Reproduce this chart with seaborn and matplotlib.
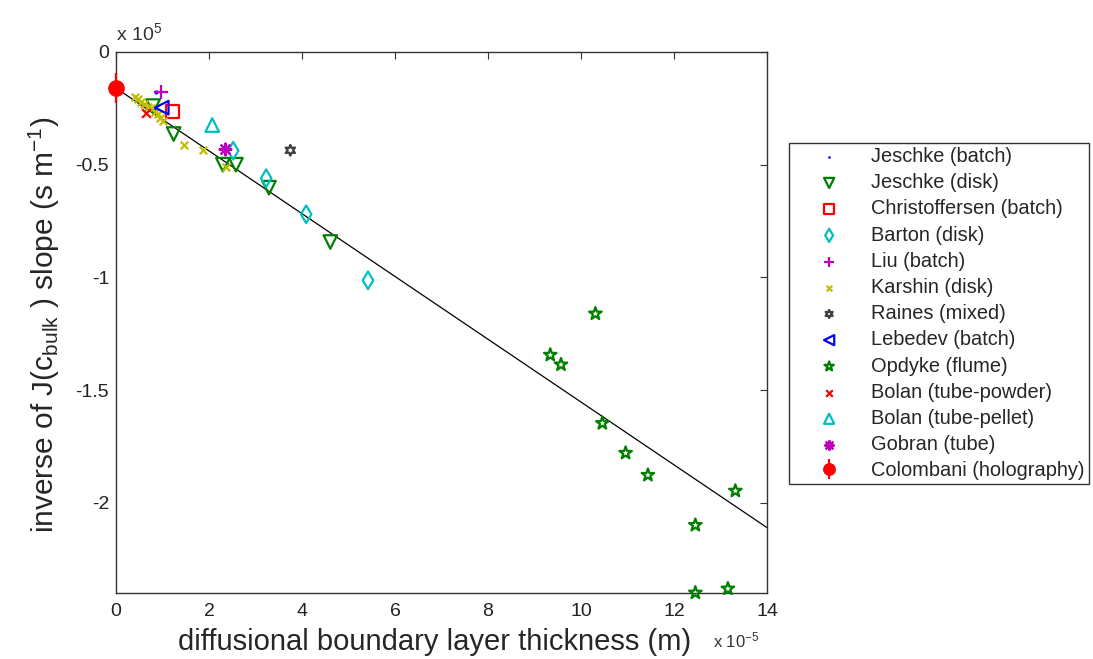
"""
Inverse of J(c_bulk) slope vs diffusional boundary layer thickness.
"""

import matplotlib
matplotlib.use("Agg")
import matplotlib.pyplot as plt
import seaborn as sns
import pandas as pd

# x in units of 1e-5 m, y in units of 1e5 s/m
jeschke_batch_x = [0.86]
jeschke_batch_y = [-0.176]

jeschke_disk_x = [0.80, 1.24, 2.30, 2.58, 3.29, 4.61]
jeschke_disk_y = [-0.240, -0.364, -0.500, -0.500, -0.602, -0.843]

christoffersen_x = [1.22]
christoffersen_y = [-0.265]

barton_x = [2.52, 3.23, 4.09, 5.42]
barton_y = [-0.438, -0.560, -0.720, -1.013]

liu_x = [0.97]
liu_y = [-0.179]

karshin_x = [0.40, 0.47, 0.54, 0.61, 0.68, 0.76, 0.83, 0.90, 0.94, 1.01,
             1.47, 1.87, 2.37]
karshin_y = [-0.199, -0.209, -0.221, -0.232, -0.243, -0.250, -0.265, -0.277,
             -0.295, -0.307, -0.413, -0.436, -0.510]

raines_x = [3.75]
raines_y = [-0.436]

lebedev_x = [0.985]
lebedev_y = [-0.247]

opdyke_x = [10.31, 9.34, 9.57, 10.46, 10.96, 11.44, 13.32, 12.46, 12.46, 13.16]
opdyke_y = [-1.161, -1.344, -1.387, -1.647, -1.779, -1.877, -1.947, -2.099,
            -2.399, -2.381]

bolan_powder_x = [0.65]
bolan_powder_y = [-0.270]

bolan_pellet_x = [2.07]
bolan_pellet_y = [-0.324]

gobran_x = [2.35]
gobran_y = [-0.432]

colombani_x = [0.0]
colombani_y = [-0.16]
colombani_err = [0.065]

fit_x = [0.0, 14.0]
fit_y = [-0.16, -2.11]

BLUE = "#0000FF"
GREEN = "#008000"
RED = "#FF0000"
CYAN = "#00BFBF"
MAGENTA = "#BF00BF"
YELLOW = "#BFBF00"
DARK = "#404040"

# label, x, y, marker, colour, size, open marker?
series = [
    ("Jeschke (batch)",        jeschke_batch_x, jeschke_batch_y, "o",       BLUE,    22, False),
    ("Jeschke (disk)",         jeschke_disk_x,  jeschke_disk_y,  "v",       GREEN,   95, True),
    ("Christoffersen (batch)", christoffersen_x, christoffersen_y, "s",     RED,     90, True),
    ("Barton (disk)",          barton_x,        barton_y,        "d",       CYAN,    80, True),
    ("Liu (batch)",            liu_x,           liu_y,           "+",       MAGENTA, 90, False),
    ("Karshin (disk)",         karshin_x,       karshin_y,       "x",       YELLOW,  30, False),
    ("Raines (mixed)",         raines_x,        raines_y,        (6, 1, 0), DARK,    60, True),
    ("Lebedev (batch)",        lebedev_x,       lebedev_y,       "<",       BLUE,    95, True),
    ("Opdyke (flume)",         opdyke_x,        opdyke_y,        "*",       GREEN,   90, True),
    ("Bolan (tube-powder)",    bolan_powder_x,  bolan_powder_y,  "x",       RED,     40, False),
    ("Bolan (tube-pellet)",    bolan_pellet_x,  bolan_pellet_y,  "^",       CYAN,    95, True),
    ("Gobran (tube)",          gobran_x,        gobran_y,        (8, 2, 0), MAGENTA, 70, False),
]


def main() -> None:
    sns.set_style("white")
    plt.rcParams["font.family"] = ["Liberation Sans", "DejaVu Sans"]
    plt.rcParams["mathtext.fontset"] = "custom"
    plt.rcParams["mathtext.rm"] = "Liberation Sans"
    plt.rcParams["mathtext.it"] = "Liberation Sans"

    fig = plt.figure(figsize=(10.93, 6.59), dpi=100)
    ax = fig.add_axes([0.1061, 0.1002, 0.5956, 0.8209])

    ax.plot(fit_x, fit_y, color="black", linewidth=0.9, zorder=1)

    for label, xs, ys, marker, color, size, hollow in series:
        df = pd.DataFrame({"x": xs, "y": ys})
        kws = dict(marker=marker, s=size, label=label, ax=ax, zorder=3,
                   clip_on=False)
        if hollow:
            kws.update(facecolor="none", edgecolor=color, linewidth=1.6)
        else:
            kws.update(color=color, linewidth=1.6)
        sns.scatterplot(data=df, x="x", y="y", **kws)

    eb = ax.errorbar(colombani_x, colombani_y, yerr=colombani_err, fmt="o",
                     color=RED, markersize=11, elinewidth=1.6, capsize=0,
                     label="Colombani (holography)", zorder=4)
    for art in eb.lines[0:1] + tuple(eb.lines[2]):
        art.set_clip_on(False)

    if ax.get_legend() is not None:
        ax.get_legend().remove()

    ax.set_xlim(0, 14)
    ax.set_ylim(-2.4, 0)
    ax.set_xticks(range(0, 15, 2))
    ax.set_yticks([0, -0.5, -1, -1.5, -2])
    ax.set_yticklabels(["0", "-0.5", "-1", "-1.5", "-2"])
    ax.tick_params(direction="in", length=5, width=0.8, labelsize=14,
                   top=True, right=True, colors="#333333", labelcolor="#222222")
    ax.tick_params(axis="x", pad=7)
    ax.tick_params(axis="y", pad=5)
    for sp in ax.spines.values():
        sp.set_color("#333333")
        sp.set_linewidth(1.0)

    ax.set_xlabel("diffusional boundary layer thickness (m)", fontsize=21)
    ax.set_ylabel(r"inverse of J(c$_{\mathrm{bulk}}$ ) slope (s m$^{-1}$)",
                  fontsize=21.5)
    ax.xaxis.set_label_coords(0.49, -0.065)
    ax.yaxis.set_label_coords(-0.083, 0.496)

    ax.text(0.0, 1.015, r"x 10$^{5}$", transform=ax.transAxes,
            fontsize=14, color="#333333", ha="left", va="bottom")
    fig.text(0.652, 0.018, r"x 10$^{-5}$", fontsize=12, color="#333333",
             ha="left", va="baseline")

    handles, labels = ax.get_legend_handles_labels()
    leg = fig.legend(handles, labels, loc="upper left",
                     bbox_to_anchor=(0.722, 0.783), fontsize=14.4,
                     frameon=True, fancybox=False, framealpha=1,
                     edgecolor="#333333", markerscale=0.75,
                     handlelength=3.6, handletextpad=0.3,
                     labelspacing=0.36, borderpad=0.2, borderaxespad=0)
    leg.get_frame().set_linewidth(1.0)

    fig.savefig("out.png", dpi=100)
    plt.close(fig)


if __name__ == "__main__":
    main()
